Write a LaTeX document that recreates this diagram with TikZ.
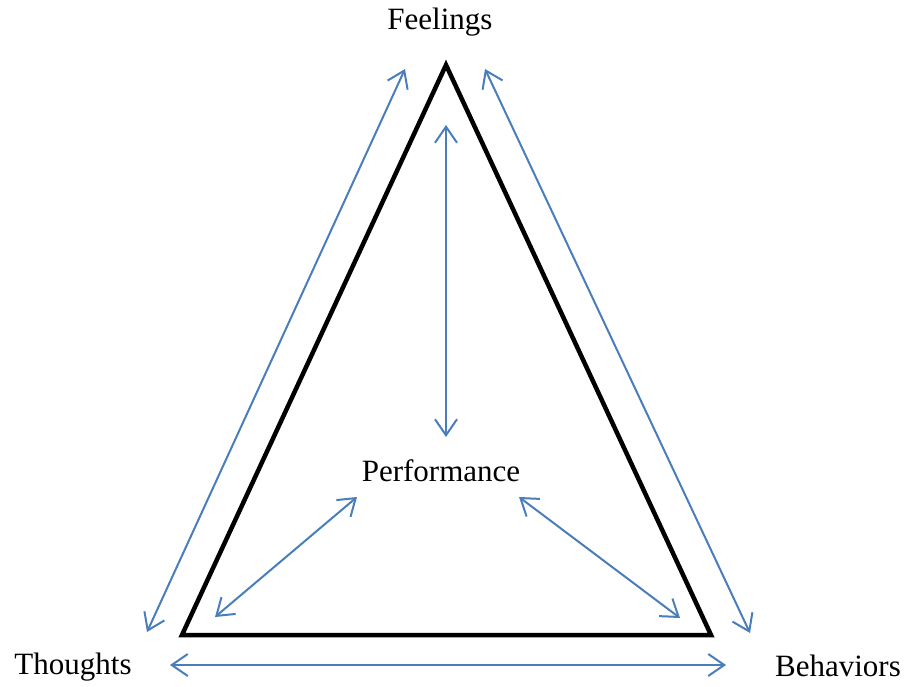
\documentclass[tikz,border=0pt]{standalone}
\usepackage{fontspec}
\setmainfont{Liberation Serif}
\usetikzlibrary{arrows.meta}
\definecolor{arrowblue}{HTML}{4A7EBB}
\begin{document}
\begin{tikzpicture}[x=1pt,y=-1pt,
  lbl/.style={font=\fontsize{31}{36}\selectfont, inner sep=0pt},
  link/.style={draw=arrowblue, line width=2pt, {Straight Barb[length=16pt,width=22pt]}-{Straight Barb[length=16pt,width=22pt]}},
  tri/.style={draw=black, line width=4.5pt, line join=miter}]
\useasboundingbox (0,0) rectangle (907,687);
\coordinate (A) at (446,65);
\coordinate (B) at (182,635);
\coordinate (C) at (711,635);
\draw[tri] (A) -- (B) -- (C) -- cycle;
\node[lbl] (feel) at (440,22) {Feelings};
\node[lbl] (perf) at (441,471) {Performance};
\node[lbl] (thou) at (73,667) {Thoughts};
\node[lbl] (beha) at (838,666) {Behaviors};
\coordinate (l1) at (147,632); \coordinate (l2) at (405,69);
\coordinate (r1) at (485,69); \coordinate (r2) at (750,633);
\coordinate (v1) at (446,125); \coordinate (v2) at (446,437);
\coordinate (pl1) at (357,497); \coordinate (pl2) at (215,617);
\coordinate (pr1) at (519,497); \coordinate (pr2) at (680,618);
\coordinate (b1) at (170,665); \coordinate (b2) at (726,665);
\draw[link] (l1) -- (l2);
\draw[link] (r1) -- (r2);
\draw[link] (v1) -- (v2);
\draw[link] (pl1) -- (pl2);
\draw[link] (pr1) -- (pr2);
\draw[link] (b1) -- (b2);
\end{tikzpicture}
\end{document}
